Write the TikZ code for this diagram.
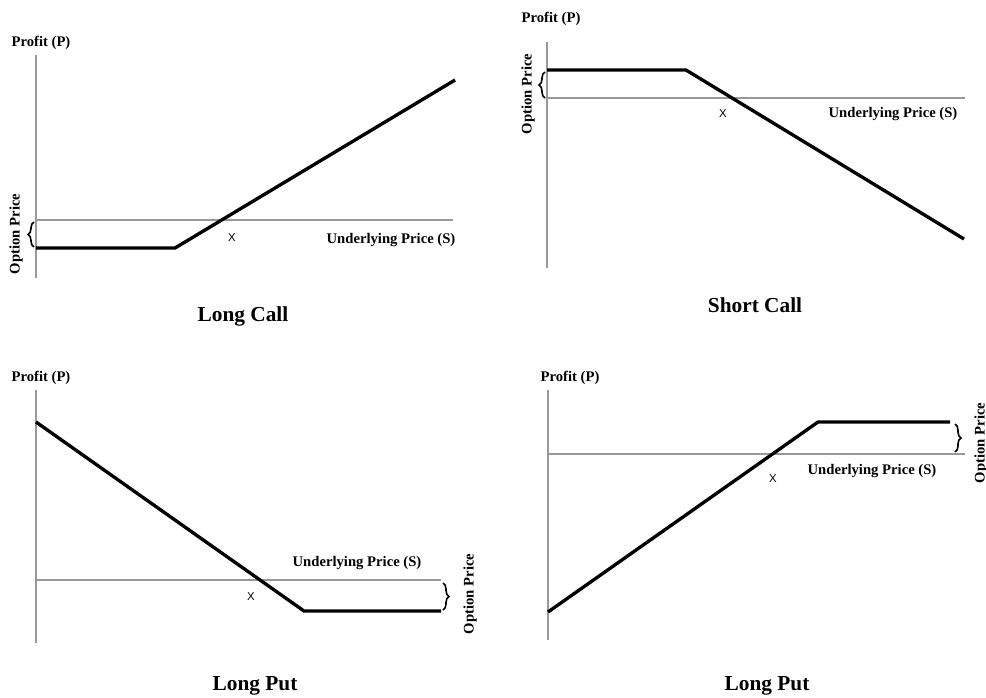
\documentclass[tikz,border=0pt]{standalone}
\usepackage{fontspec}
\setmainfont{Liberation Serif}
\newfontfamily\xsans{Liberation Sans}
\usetikzlibrary{decorations.pathreplacing}
\begin{document}
\begin{tikzpicture}[x=0.75pt,y=-0.75pt,
 axisline/.style={draw=black!40, line width=0.8pt},
 payoff/.style={line width=2.5pt, line join=miter},
 lbl/.style={font=\fontsize{11}{13}\selectfont\bfseries, inner sep=0pt},
 ttl/.style={font=\fontsize{16}{19}\selectfont\bfseries, inner sep=0pt},
 strike/.style={font=\xsans\fontsize{8.5}{10}\selectfont, inner sep=0pt},
 optp/.style={lbl, rotate=90},
 bracestyle/.style={decorate, decoration={brace, amplitude=4.5pt}, line width=1.2pt}]
\useasboundingbox[fill=white] (0,0) rectangle (986,697);

% ---------- Panel 1: Long Call ----------
\coordinate (a1o) at (36,220);
\coordinate (a1t) at (36,55);
\coordinate (a1b) at (36,278);
\coordinate (a1r) at (453,220);
\draw[axisline] (a1t) -- (a1b);
\draw[axisline] (a1o) -- (a1r);
\coordinate (p1a) at (36,248);
\coordinate (p1b) at (175,248);
\coordinate (p1c) at (455,80);
\draw[payoff] (p1a) -- (p1b) -- (p1c);
\coordinate (b1s) at (34,247);
\coordinate (b1e) at (34,222);
\draw[bracestyle] (b1s) -- (b1e);
\node[lbl] (prof1) at (41,43) {Profit (P)};
\node[optp] (opt1) at (16,234) {Option Price};
\node[strike] (x1) at (232,238) {X};
\node[lbl] (und1) at (391,240) {Underlying Price (S)};
\node[ttl] (t1) at (243,316) {Long Call};

% ---------- Panel 2: Short Call ----------
\coordinate (a2o) at (547,98);
\coordinate (a2t) at (547,42);
\coordinate (a2b) at (547,268);
\coordinate (a2r) at (965,98);
\draw[axisline] (a2t) -- (a2b);
\draw[axisline] (a2o) -- (a2r);
\coordinate (p2a) at (547,70);
\coordinate (p2b) at (686,70);
\coordinate (p2c) at (964,239);
\draw[payoff] (p2a) -- (p2b) -- (p2c);
\coordinate (b2s) at (545,98);
\coordinate (b2e) at (545,72);
\draw[bracestyle] (b2s) -- (b2e);
\node[lbl] (prof2) at (551,19) {Profit (P)};
\node[optp] (opt2) at (528,94) {Option Price};
\node[strike] (x2) at (723,114) {X};
\node[lbl] (und2) at (893,114) {Underlying Price (S)};
\node[ttl] (t2) at (755,305) {Short Call};

% ---------- Panel 3: Long Put ----------
\coordinate (a3o) at (36,580);
\coordinate (a3t) at (36,390);
\coordinate (a3b) at (36,643);
\coordinate (a3r) at (441,580);
\draw[axisline] (a3t) -- (a3b);
\draw[axisline] (a3o) -- (a3r);
\coordinate (p3a) at (36,422);
\coordinate (p3b) at (304,611);
\coordinate (p3c) at (441,611);
\draw[payoff] (p3a) -- (p3b) -- (p3c);
\coordinate (b3s) at (443,583);
\coordinate (b3e) at (443,610);
\draw[bracestyle] (b3s) -- (b3e);
\node[lbl] (prof3) at (41,378) {Profit (P)};
\node[optp] (opt3) at (470,594) {Option Price};
\node[strike] (x3) at (251,597) {X};
\node[lbl] (und3) at (357,563) {Underlying Price (S)};
\node[ttl] (t3) at (255,686) {Long Put};

% ---------- Panel 4: Long Put ----------
\coordinate (a4o) at (548,454);
\coordinate (a4t) at (548,390);
\coordinate (a4b) at (548,640);
\coordinate (a4r) at (965,454);
\draw[axisline] (a4t) -- (a4b);
\draw[axisline] (a4o) -- (a4r);
\coordinate (p4a) at (548,612);
\coordinate (p4b) at (818,422);
\coordinate (p4c) at (950,422);
\draw[payoff] (p4a) -- (p4b) -- (p4c);
\coordinate (b4s) at (955,424);
\coordinate (b4e) at (955,452);
\draw[bracestyle] (b4s) -- (b4e);
\node[lbl] (prof4) at (570,378) {Profit (P)};
\node[optp] (opt4) at (981,443) {Option Price};
\node[strike] (x4) at (773,479) {X};
\node[lbl] (und4) at (872,471) {Underlying Price (S)};
\node[ttl] (t4) at (767,686) {Long Put};
\end{tikzpicture}
\end{document}
